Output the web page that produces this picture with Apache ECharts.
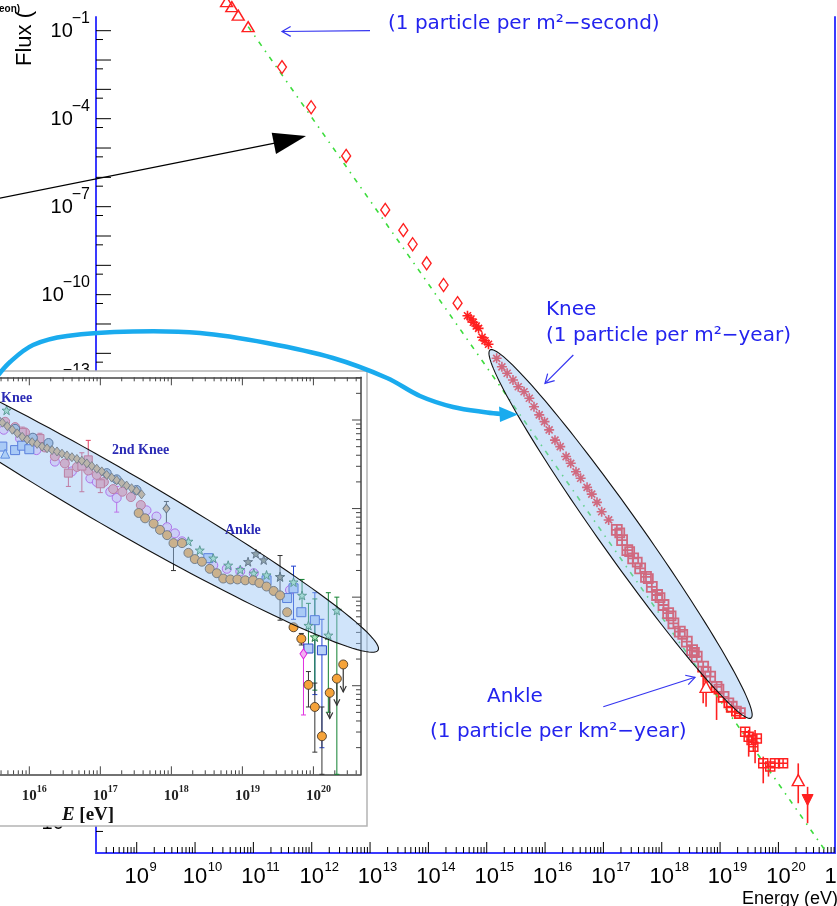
<!DOCTYPE html>
<html>
<head>
<meta charset="utf-8">
<script src="https://cdn.jsdelivr.net/npm/echarts@6.0.0/dist/echarts.min.js"></script>
<style>
html,body{margin:0;padding:0;background:#ffffff;overflow:hidden;}
#chart{width:837px;height:906px;}
</style>
</head>
<body>
<div id="chart"></div>
<script>
// ================= MAIN SPECTRUM (log10 E [eV], log10 Flux) =================
const mainTriLogE = [10.54, 10.63, 10.74, 10.91];
const mainTriLogF = [-0.01, -0.18, -0.47, -0.86];
const mainDiamondLogE = [11.49, 11.99, 12.59, 13.26, 13.57, 13.73, 13.97, 14.26, 14.50];
const mainDiamondLogF = [-2.24, -3.61, -5.27, -7.11, -7.80, -8.28, -8.93, -9.67, -10.29];
const mainStarLogE = [14.67, 14.73, 14.77, 14.82, 14.86, 14.92, 14.97, 15.03, 15.17, 15.26, 15.35, 15.45, 15.54, 15.64, 15.73, 15.81, 15.90, 15.99, 16.07, 16.17, 16.26, 16.36, 16.44, 16.53, 16.61, 16.72, 16.80, 16.89, 16.97, 17.09];
const mainStarLogF = [-10.72, -10.83, -10.94, -11.07, -11.15, -11.45, -11.57, -11.69, -12.17, -12.46, -12.68, -12.91, -13.14, -13.31, -13.53, -13.82, -14.10, -14.33, -14.61, -14.96, -15.18, -15.52, -15.75, -16.04, -16.26, -16.57, -16.80, -17.08, -17.40, -17.68];
const mainSquareLogE = [17.23, 17.32, 17.41, 17.51, 17.63, 17.73, 17.83, 17.92, 18.03, 18.11, 18.20, 18.31, 18.43, 18.52, 18.60, 18.71, 18.83, 18.94, 19.06, 19.20, 19.34];
const mainSquareLogF = [-18.02, -18.37, -18.71, -18.99, -19.33, -19.62, -19.96, -20.24, -20.58, -20.86, -21.21, -21.49, -21.83, -22.12, -22.34, -22.68, -23.02, -23.37, -23.71, -24.05, -24.27];
const mainCrossLogE = [17.28, 17.45, 17.58, 17.77, 17.97, 18.16, 18.36, 18.56, 18.76, 18.98, 19.15, 19.28];
const mainCrossLogF = [-18.12, -18.76, -19.12, -19.68, -20.33, -20.95, -21.58, -22.20, -22.85, -23.45, -23.92, -24.20];
const mainAnkleLogE = [19.43, 19.49, 19.54, 19.57, 19.63, 19.74, 19.86, 19.94, 20.08];
const mainAnkleLogF = [-24.90, -25.07, -25.18, -25.41, -25.13, -25.98, -26.09, -25.98, -25.98];
const mainOpenTriLogE = [18.76, 20.34];
const mainOpenTriLogF = [-23.37, -26.55];
const mainDownTriLogE = [20.50];
const mainDownTriLogF = [-27.23];
const mainErrLogE = [18.71, 18.76, 18.94, 19.49, 19.60, 19.74, 19.83, 20.34, 20.50];
const mainErrLo   = [-23.93, -24.05, -24.50, -25.75, -25.98, -26.66, -26.43, -27.34, -28.02];
const mainErrHi   = [-22.80, -23.03, -23.48, -24.84, -24.84, -25.75, -25.97, -25.98, -26.78];
const fitLogE = [10.91, 20.82];
const fitLogF = [-0.86, -29.0];

// tick labels (exponents of 10)
const mainXTickExp = [9, 10, 11, 12, 13, 14, 15, 16, 17, 18, 19, 20, 21];
const mainYTickExp = [-1, -4, -7, -10, -13, -16, -19, -22, -25, -28];
const insetXTickExp = [16, 17, 18, 19, 20];

// ================= INSET (log10 E [eV], log10 scaled flux) =================
const inTanLogE = [15.55, 15.62, 15.69, 15.76, 15.83, 15.90, 15.97, 16.04, 16.11, 16.18, 16.25, 16.32, 16.39, 16.46, 16.53, 16.60, 16.67, 16.74, 16.81, 16.88, 16.95, 17.02, 17.09, 17.16, 17.23, 17.30, 17.37, 17.44, 17.51, 17.58];
const inTanLogF = [4.02, 3.97, 3.93, 3.89, 3.85, 3.81, 3.78, 3.75, 3.73, 3.70, 3.68, 3.66, 3.645, 3.62, 3.60, 3.58, 3.56, 3.54, 3.51, 3.48, 3.45, 3.42, 3.38, 3.35, 3.32, 3.29, 3.26, 3.23, 3.20, 3.16];
const inOrangeLogE = [17.54, 17.63, 17.75, 17.84, 17.94, 18.03, 18.15, 18.24, 18.33, 18.43, 18.54, 18.64, 18.73, 18.83, 18.93, 19.04, 19.15, 19.24, 19.34, 19.44, 19.53, 19.63, 19.72, 19.83, 19.93, 20.02, 20.12];
const inOrangeLogF = [2.95, 2.89, 2.83, 2.76, 2.70, 2.61, 2.61, 2.50, 2.43, 2.40, 2.32, 2.27, 2.21, 2.20, 2.20, 2.19, 2.19, 2.16, 2.12, 2.07, 2.02, 1.83, 1.66, 1.53, 1.01, 0.76, 0.43];
const inLimitLogE = [20.23, 20.33, 20.42];
const inLimitLogF = [0.92, 1.08, 1.24];
const inLimitEnd  = [0.63, 0.78, 0.93];
const inPinkLogE = [15.66, 15.80, 15.94, 16.08, 16.22, 16.36, 16.50, 16.67, 16.83, 16.95, 17.05, 17.18, 17.31, 17.43, 17.57];
const inPinkLogF = [3.98, 3.92, 3.86, 3.78, 3.69, 3.59, 3.51, 3.47, 3.43, 3.38, 3.30, 3.22, 3.19, 3.13, 3.04];
const inPinkSqLogE = [15.90, 16.15, 16.55, 16.74, 16.83, 17.00];
const inPinkSqLogF = [3.86, 3.79, 3.40, 3.48, 3.55, 3.28];
const inPinkSqLo   = [3.80, 3.73, 3.25, 3.19, 3.44, 3.18];
const inPinkSqHi   = [3.92, 3.85, 3.55, 3.63, 3.77, 3.38];
const inMagLogE = [15.64, 15.87, 16.10, 16.36, 16.60, 16.86, 16.95, 17.14, 17.23, 17.65, 17.79, 17.94, 18.05, 18.15, 18.59, 18.78, 18.97, 19.16, 19.67];
const inMagLogF = [3.89, 3.79, 3.66, 3.53, 3.42, 3.34, 3.30, 3.19, 3.12, 2.98, 2.91, 2.79, 2.72, 2.63, 2.36, 2.32, 2.29, 2.27, 2.08];
const inMagDiaLogE = [19.86];
const inMagDiaLogF = [1.36];
const inMagErrLogE = [17.23, 19.86];
const inMagErrLo   = [2.96, 0.67];
const inMagErrHi   = [3.25, 1.51];
const inBlueSqLogE = [15.62, 15.80, 15.90, 16.00, 18.52, 19.34, 19.63, 19.72, 19.83, 20.02, 19.93, 20.12];
const inBlueSqLogF = [3.70, 3.66, 3.71, 3.67, 2.44, 2.19, 1.99, 2.10, 1.83, 1.74, 1.42, 1.40];
const inBlueErrLogE = [19.72, 20.02, 20.12];
const inBlueErrLo   = [1.75, 0.90, 0.30];
const inBlueErrHi   = [2.35, 2.05, 1.75];
const inBlueTriLogE = [15.66];
const inBlueTriLogF = [3.62];
const inGreenLogE = [15.68, 18.24, 18.40, 18.59, 18.80, 18.97, 19.16, 19.34, 19.53, 19.72, 19.84, 19.93, 20.02, 20.21, 20.33];
const inGreenLogF = [4.11, 2.63, 2.53, 2.44, 2.36, 2.31, 2.27, 2.25, 2.23, 2.17, 2.02, 1.68, 1.55, 1.57, 1.85];
const inGreenErrLogE = [19.84, 19.93, 20.02, 20.21, 20.33];
const inGreenErrLo   = [1.80, 1.40, 0.95, 0.70, 0.00];
const inGreenErrHi   = [2.20, 1.93, 1.98, 2.05, 2.00];
const inGreyCircLogE = [15.80, 16.05, 16.27, 17.09, 17.23, 17.51];
const inGreyCircLogF = [3.90, 3.80, 3.74, 3.40, 3.33, 3.21];
const inDarkStarLogE = [19.08, 19.19, 19.30, 19.53];
const inDarkStarLogF = [2.40, 2.49, 2.42, 2.23];
const inDarkDiaLogE = [17.93];
const inDarkDiaLogF = [3.00];
const inDarkErrLogE = [17.93, 18.03, 19.53, 19.83, 19.93, 20.02, 20.12];
const inDarkErrLo   = [2.82, 2.30, 1.74, 1.46, 0.76, 0.25, 0.00];
const inDarkErrHi   = [3.08, 2.65, 2.47, 1.59, 1.16, 1.03, 0.76];

// ================= helpers =================
const pw = v => Math.pow(10, v);
const zip = (a, b) => a.map((v, i) => [pw(v), pw(b[i])]);
const zip3 = (a, b, c) => a.map((v, i) => [pw(v), pw(b[i]), pw(c[i])]);
const range = (a, b) => { const r = []; for (let i = a; i <= b; i++) r.push(i); return r; };

const X0 = [8.302, 20.97], Y0 = [-29.036, -0.533];
const X1 = [15.5, 20.67], Y1 = [0, 4.482];
const AXB = '#3a3aff';
const RED = '#ff2020';
const SANS = '"Liberation Sans", Arial, sans-serif';
const SERIF = '"Liberation Serif", "DejaVu Serif", serif';

const mctx = document.createElement('canvas').getContext('2d');
function tw(t, font) { mctx.font = font; return mctx.measureText(t).width; }

function expOf(v) { const e = Math.log10(v); const r = Math.round(e); return Math.abs(e - r) < 1e-6 ? r : null; }
function fmtInX(v) { const r = expOf(v); return (r !== null && insetXTickExp.includes(r)) ? '{b|10}{s|' + r + '}' : ''; }

function textEl(t, x, y, font, fill, align) {
  return { type: 'text', x: x, y: y, style: { text: t, font: font, fill: fill, align: align, textAlign: align, verticalAlign: 'middle', textVerticalAlign: 'middle' } };
}
function tickSeries(xi, yi, data, dx, dy, len, color, z) {
  return { type: 'custom', xAxisIndex: xi, yAxisIndex: yi, z: z, clip: false, silent: true, data: data,
    renderItem: function (params, api) {
      const p = api.coord([api.value(0), api.value(1)]);
      return { type: 'line', shape: { x1: p[0], y1: p[1], x2: p[0] + dx * len, y2: p[1] + dy * len },
        style: { stroke: color, lineWidth: 1 } };
    } };
}
const XB_FONT = '22px ' + SANS, XS_FONT = '13px ' + SANS;
const YB_FONT = '20px ' + SANS, YS_FONT = '16px ' + SANS;
function xLabelSeries(data, z) {
  return { type: 'custom', xAxisIndex: 0, yAxisIndex: 0, z: z, clip: false, silent: true, data: data,
    renderItem: function (params, api) {
      const p = api.coord([api.value(0), api.value(1)]);
      const e = Math.round(Math.log10(api.value(0)));
      const w = tw('10', XB_FONT);
      return { type: 'group', children: [
        textEl('10', p[0], p[1] + 24, XB_FONT, '#000', 'center'),
        textEl(String(e), p[0] + w / 2 + 0.5, p[1] + 14, XS_FONT, '#000', 'left')
      ] };
    } };
}
function yLabelSeries(data, z) {
  return { type: 'custom', xAxisIndex: 0, yAxisIndex: 0, z: z, clip: false, silent: true, data: data,
    renderItem: function (params, api) {
      const p = api.coord([api.value(0), api.value(1)]);
      const e = Math.round(Math.log10(api.value(1)));
      const s = '\u2212' + Math.abs(e);
      const ws = tw(s, YS_FONT);
      const xr = p[0] - 6;
      return { type: 'group', children: [
        textEl(s, xr, p[1] - 12, YS_FONT, '#000', 'right'),
        textEl('10', xr - ws + 1, p[1] + 1, YB_FONT, '#000', 'right')
      ] };
    } };
}
function errSeries(xi, yi, data, color, cap, z, lw) {
  return { type: 'custom', xAxisIndex: xi, yAxisIndex: yi, z: z, clip: false, silent: true, data: data,
    encode: { x: 0, y: [1, 2] },
    renderItem: function (params, api) {
      const lo = api.coord([api.value(0), api.value(1)]);
      const hi = api.coord([api.value(0), api.value(2)]);
      const st = { stroke: color, lineWidth: lw || 1.2 };
      const ch = [{ type: 'line', shape: { x1: lo[0], y1: lo[1], x2: hi[0], y2: hi[1] }, style: st }];
      if (cap) {
        ch.push({ type: 'line', shape: { x1: lo[0] - cap, y1: lo[1], x2: lo[0] + cap, y2: lo[1] }, style: st });
        ch.push({ type: 'line', shape: { x1: hi[0] - cap, y1: hi[1], x2: hi[0] + cap, y2: hi[1] }, style: st });
      }
      return { type: 'group', children: ch };
    } };
}
function limitSeries(xi, yi, data, color, z) {
  return { type: 'custom', xAxisIndex: xi, yAxisIndex: yi, z: z, clip: false, silent: true, data: data,
    encode: { x: 0, y: [1, 2] },
    renderItem: function (params, api) {
      const p = api.coord([api.value(0), api.value(1)]);
      const q = api.coord([api.value(0), api.value(2)]);
      const st = { stroke: color, lineWidth: 1.2, fill: null };
      return { type: 'group', children: [
        { type: 'line', shape: { x1: p[0], y1: p[1], x2: q[0], y2: q[1] }, style: st },
        { type: 'polyline', shape: { points: [[q[0] - 3, q[1] - 6], [q[0], q[1]], [q[0] + 3, q[1] - 6]] }, style: st }
      ] };
    } };
}
function scatter(xi, yi, data, symbol, size, fill, stroke, bw, z, extra) {
  return Object.assign({ type: 'scatter', xAxisIndex: xi, yAxisIndex: yi, data: data, symbol: symbol,
    symbolSize: size, z: z, clip: false, silent: true,
    itemStyle: { color: fill, borderColor: stroke, borderWidth: bw, opacity: 1 } }, extra || {});
}

const ASTER = 'path://M5,0L5,10M0,5L10,5M1.5,1.5L8.5,8.5M1.5,8.5L8.5,1.5';
const SQCROSS = 'path://M0,0L10,0L10,10L0,10ZM5,0L5,10M0,5L10,5';
const STAR = 'path://M5,0L6.2,3.6L10,3.6L7,5.9L8.1,9.5L5,7.3L1.9,9.5L3,5.9L0,3.6L3.8,3.6Z';

// ----- tick / label positions (axis decoration) -----
const mainXMajor = range(9, 20).map(d => [pw(d), pw(Y0[0])]);
const mainXMinor = [];
for (let d = 8; d <= 20; d++) for (let m = 2; m <= 9; m++) { const l = d + Math.log10(m); if (l > X0[0] && l < X0[1]) mainXMinor.push([pw(l), pw(Y0[0])]); }
const mainYMajor = range(1, 28).map(k => [pw(X0[0]), pw(-k)]);
const mainYMinor = range(2, 29).map(k => -k + Math.log10(5)).filter(l => l > Y0[0]).map(l => [pw(X0[0]), pw(l)]);
const mainXLabelPos = mainXTickExp.map(e => [pw(e), pw(Y0[0])]);
const mainYLabelPos = mainYTickExp.map(e => [pw(X0[0]), pw(e)]);
const inXMajorB = range(16, 20).map(d => [pw(d), pw(Y1[0])]);
const inXMajorT = range(16, 20).map(d => [pw(d), pw(Y1[1])]);
const inXMinorB = [], inXMinorT = [];
for (let d = 15; d <= 20; d++) for (let m = 2; m <= 9; m++) { const l = d + Math.log10(m); if (l > X1[0] && l < X1[1]) { inXMinorB.push([pw(l), pw(Y1[0])]); inXMinorT.push([pw(l), pw(Y1[1])]); } }
const inYMajor = range(1, 4).map(d => [pw(X1[1]), pw(d)]);
const inYMinor = [];
for (let d = 0; d <= 4; d++) for (let m = 2; m <= 9; m++) { const l = d + Math.log10(m); if (l > Y1[0] && l < Y1[1]) inYMinor.push([pw(X1[1]), pw(l)]); }

function logAxis(gi, ext, pos, extra) {
  return Object.assign({ gridIndex: gi, type: 'log', logBase: 10, min: pw(ext[0]), max: pw(ext[1]), position: pos,
    axisLine: { show: true, onZero: false, lineStyle: { color: '#444', width: 1.5 } },
    axisTick: { show: false }, minorTick: { show: false }, splitLine: { show: false }, minorSplitLine: { show: false },
    axisLabel: { show: false } }, extra || {});
}

const option = {
  animation: false,
  backgroundColor: '#ffffff',
  tooltip: { show: false },
  grid: [
    { left: 96, top: 17, width: 739, height: 836, containLabel: false, outerBoundsMode: 'none' },
    { left: -6.2, top: 377.3, width: 367.2, height: 397, containLabel: false, outerBoundsMode: 'none' }
  ],
  xAxis: [
    logAxis(0, X0, 'bottom', { z: 0, axisLine: { show: true, onZero: false, lineStyle: { color: AXB, width: 2 } } }),
    logAxis(1, X1, 'bottom', { z: 6, splitNumber: 5,
      axisLabel: { show: true, margin: 10, padding: [0, 0, 0, 10], formatter: fmtInX,
        rich: { b: { fontSize: 15, fontWeight: 'bold', fontFamily: SERIF, color: '#222', lineHeight: 24 },
                s: { fontSize: 10, fontWeight: 'bold', fontFamily: SERIF, color: '#222', lineHeight: 10, verticalAlign: 'top' } } } }),
    logAxis(1, X1, 'top', { z: 6 })
  ],
  yAxis: [
    logAxis(0, Y0, 'left', { z: 0, axisLine: { show: true, onZero: false, lineStyle: { color: AXB, width: 2 } } }),
    logAxis(0, Y0, 'right', { z: 0, axisLine: { show: true, onZero: false, lineStyle: { color: AXB, width: 2 } } }),
    logAxis(1, Y1, 'left', { z: 6 }),
    logAxis(1, Y1, 'right', { z: 6 })
  ],
  series: [
    // ---- main ticks & labels ----
    tickSeries(0, 0, mainXMajor, 0, -1, 11, '#000', 1),
    tickSeries(0, 0, mainXMinor, 0, -1, 6, '#000', 1),
    tickSeries(0, 0, mainYMajor, 1, 0, 15, '#000', 1),
    tickSeries(0, 0, mainYMinor, 1, 0, 7, '#000', 1),
    xLabelSeries(mainXLabelPos, 1),
    yLabelSeries(mainYLabelPos, 1),
    // ---- main data ----
    { type: 'line', xAxisIndex: 0, yAxisIndex: 0, data: zip(fitLogE, fitLogF), showSymbol: false, symbol: 'none', z: 2, silent: true, clip: false,
      lineStyle: { color: '#3ddc3d', width: 1.6, type: [5, 6, 1.5, 6] } },
    errSeries(0, 0, zip3(mainErrLogE, mainErrLo, mainErrHi), RED, 0, 2, 1.6),
    scatter(0, 0, zip(mainTriLogE, mainTriLogF), 'triangle', [12, 10], 'rgba(255,255,255,0)', RED, 1.4, 2),
    scatter(0, 0, zip(mainDiamondLogE, mainDiamondLogF), 'diamond', [9, 13], 'rgba(255,255,255,0)', RED, 1.4, 2),
    scatter(0, 0, zip(mainStarLogE, mainStarLogF), ASTER, 10, 'rgba(255,255,255,0)', RED, 1.6, 2),
    scatter(0, 0, zip(mainSquareLogE, mainSquareLogF), SQCROSS, 10, 'rgba(255,255,255,0)', RED, 1.8, 2),
    scatter(0, 0, zip(mainCrossLogE, mainCrossLogF), 'rect', 9, 'rgba(255,255,255,0)', RED, 1.8, 2),
    scatter(0, 0, zip(mainAnkleLogE, mainAnkleLogF), SQCROSS, 9, 'rgba(255,255,255,0)', RED, 1.5, 2),
    scatter(0, 0, zip(mainOpenTriLogE, mainOpenTriLogF), 'triangle', [12, 11], '#ffffff', RED, 1.4, 2),
    scatter(0, 0, zip(mainDownTriLogE, mainDownTriLogF), 'triangle', [11, 11], RED, RED, 1, 2, { symbolRotate: 180 }),
    // ---- inset ticks ----
    tickSeries(1, 2, inXMajorB, 0, -1, 8, '#444', 6),
    tickSeries(1, 2, inXMinorB, 0, -1, 4, '#444', 6),
    tickSeries(1, 2, inXMajorT, 0, 1, 8, '#444', 6),
    tickSeries(1, 2, inXMinorT, 0, 1, 4, '#444', 6),
    tickSeries(1, 2, inYMajor, -1, 0, 9, '#444', 6),
    tickSeries(1, 2, inYMinor, -1, 0, 5, '#444', 6),
    // ---- inset data ----
    errSeries(1, 2, zip3(inPinkSqLogE, inPinkSqLo, inPinkSqHi), '#e04060', 2.5, 7, 1),
    errSeries(1, 2, zip3(inMagErrLogE, inMagErrLo, inMagErrHi), '#e030e0', 2.5, 7, 1),
    errSeries(1, 2, zip3(inBlueErrLogE, inBlueErrLo, inBlueErrHi), '#2040d0', 2.5, 7, 1),
    errSeries(1, 2, zip3(inGreenErrLogE, inGreenErrLo, inGreenErrHi), '#108030', 2.5, 7, 1),
    errSeries(1, 2, zip3(inDarkErrLogE, inDarkErrLo, inDarkErrHi), '#333333', 2.5, 7, 1),
    limitSeries(1, 2, zip3(inLimitLogE, inLimitLogF, inLimitEnd), '#333333', 7),
    scatter(1, 2, zip(inMagLogE, inMagLogF), 'circle', 9, 'rgba(246,214,250,0.95)', '#c030e0', 1, 7),
    scatter(1, 2, zip(inPinkLogE, inPinkLogF), 'circle', 9, '#f4a0b0', '#d84860', 1, 7),
    scatter(1, 2, zip(inPinkSqLogE, inPinkSqLogF), 'rect', 8, '#f4a0b0', '#d84860', 1, 7),
    scatter(1, 2, zip(inGreyCircLogE, inGreyCircLogF), 'circle', 9, '#a8bcd8', '#2a3a5a', 1, 7),
    scatter(1, 2, zip(inBlueSqLogE, inBlueSqLogF), 'rect', 9, '#b8d0f8', '#2848c8', 1, 7),
    scatter(1, 2, zip(inBlueTriLogE, inBlueTriLogF), 'triangle', 9, '#c0d8f8', '#3060d0', 1, 7),
    scatter(1, 2, zip(inTanLogE, inTanLogF), 'diamond', [7, 9], '#d8aa70', '#4a3a2a', 0.8, 7),
    scatter(1, 2, zip(inGreenLogE, inGreenLogF), STAR, 9, '#a8e8b8', '#207040', 0.9, 7),
    scatter(1, 2, zip(inDarkStarLogE, inDarkStarLogF), STAR, 9, '#8a8a70', '#333333', 0.9, 7),
    scatter(1, 2, zip(inDarkDiaLogE, inDarkDiaLogF), 'diamond', [7, 9], '#d8aa70', '#333333', 0.9, 7),
    scatter(1, 2, zip(inOrangeLogE, inOrangeLogF), 'circle', 9, '#f5a33a', '#4a3a2a', 0.9, 7),
    scatter(1, 2, zip(inMagDiaLogE, inMagDiaLogF), 'diamond', [7, 10], '#f0b0f0', '#e020e0', 1, 7),
    scatter(1, 2, zip(inLimitLogE, inLimitLogF), 'circle', 9, '#f5a33a', '#4a3a2a', 0.9, 7)
  ]
};

const chart = echarts.init(document.getElementById('chart'), null, { renderer: 'canvas', width: 837, height: 906 });
chart.setOption(option);

// ================= annotations =================
function ellipsePoints(p1, p2, b) {
  const cx = (p1[0] + p2[0]) / 2, cy = (p1[1] + p2[1]) / 2;
  const a = Math.hypot(p2[0] - p1[0], p2[1] - p1[1]) / 2;
  const th = Math.atan2(p2[1] - p1[1], p2[0] - p1[0]);
  const pts = [];
  for (let i = 0; i < 144; i++) {
    const t = i / 144 * 2 * Math.PI;
    const ex = a * Math.cos(t), ey = b * Math.sin(t);
    pts.push([cx + ex * Math.cos(th) - ey * Math.sin(th), cy + ex * Math.sin(th) + ey * Math.cos(th)]);
  }
  return pts;
}
function arrowHead(from, tip, len, ang) {
  const d = Math.atan2(from[1] - tip[1], from[0] - tip[0]);
  return [[tip[0] + len * Math.cos(d + ang), tip[1] + len * Math.sin(d + ang)], tip,
          [tip[0] + len * Math.cos(d - ang), tip[1] + len * Math.sin(d - ang)]];
}
function txt(t, x, y, font, fill, align, z, extra) {
  return Object.assign({ type: 'text', x: x, y: y, z: z, silent: true,
    style: { text: t, font: font, fill: fill, align: align, textAlign: align, verticalAlign: 'middle', textVerticalAlign: 'middle' } }, extra || {});
}

const mainEllA = chart.convertToPixel({ xAxisIndex: 0, yAxisIndex: 0 }, [pw(15.057), pw(-11.886)]);
const mainEllB = chart.convertToPixel({ xAxisIndex: 0, yAxisIndex: 0 }, [pw(19.531), pw(-24.433)]);
const inC = chart.convertToPixel({ xAxisIndex: 1, yAxisIndex: 2 }, [pw(17.207), pw(3.119)]);
const inT = chart.convertToPixel({ xAxisIndex: 1, yAxisIndex: 2 }, [pw(20.911), pw(1.401)]);
const inS = [2 * inC[0] - inT[0], 2 * inC[1] - inT[1]];

const ANN = '#2323ee';
const ANNF = '20px "DejaVu Sans", sans-serif';
const a1from = [370, 30.7], a1tip = [282, 31.5];
const a2from = [573.3, 355], a2tip = [545, 383.3];
const a3from = [603.3, 706.7], a3tip = [695, 677.3];
const ALS = { stroke: '#3535f0', lineWidth: 1.2, fill: null };

const graphics = [
  txt('eon)', -1, 9, 'bold 10px ' + SANS, '#000', 'left', 1),
  txt('Flux (', 25, 66, '22px ' + SANS, '#000', 'left', 1, { rotation: Math.PI / 2 }),
  txt('Energy (eV)', 838, 899, '18px ' + SANS, '#000', 'right', 1),
  // main ellipse overlay
  { type: 'polygon', z: 4, silent: true, shape: { points: ellipsePoints(mainEllA, mainEllB, 21) },
    style: { fill: 'rgba(150,195,245,0.45)', stroke: '#111', lineWidth: 1.1 } },
  // blue annotations
  txt('(1 particle per m\u00b2\u2212second)', 388, 24, ANNF, ANN, 'left', 4),
  txt('Knee', 546, 310, ANNF, ANN, 'left', 4),
  txt('(1 particle per m\u00b2\u2212year)', 546, 336, ANNF, ANN, 'left', 4),
  txt('Ankle', 487, 697, ANNF, ANN, 'left', 4),
  txt('(1 particle per km\u00b2\u2212year)', 430, 732, ANNF, ANN, 'left', 4),
  { type: 'polyline', z: 4, silent: true, shape: { points: [a1from, a1tip] }, style: ALS },
  { type: 'polyline', z: 4, silent: true, shape: { points: arrowHead(a1from, a1tip, 10, 0.52) }, style: ALS },
  { type: 'polyline', z: 4, silent: true, shape: { points: [a2from, a2tip] }, style: ALS },
  { type: 'polyline', z: 4, silent: true, shape: { points: arrowHead(a2from, a2tip, 10, 0.52) }, style: ALS },
  { type: 'polyline', z: 4, silent: true, shape: { points: [a3from, a3tip] }, style: ALS },
  { type: 'polyline', z: 4, silent: true, shape: { points: arrowHead(a3from, a3tip, 10, 0.52) }, style: ALS },
  // black arrow
  { type: 'polyline', z: 4, silent: true, shape: { points: [[-2, 198.5], [276, 142.8]] }, style: { stroke: '#000', lineWidth: 1.2, fill: null } },
  { type: 'polygon', z: 4, silent: true, shape: { points: [[271.7, 132.7], [306, 136], [276, 154]] }, style: { fill: '#000' } },
  // inset box
  { type: 'rect', z: 5, silent: true, shape: { x: -2, y: 371, width: 369, height: 455 }, style: { fill: '#ffffff', stroke: '#b4b4b4', lineWidth: 1.5 } },
  // inset ellipse overlay
  { type: 'polygon', z: 8, silent: true, shape: { points: ellipsePoints(inS, inT, 29) },
    style: { fill: 'rgba(150,195,245,0.45)', stroke: '#111', lineWidth: 1.1 } },
  // inset labels
  txt('Knee', 1, 398.5, 'bold 14px ' + SERIF, '#2b2bb5', 'left', 9),
  txt('2nd Knee', 112, 450, 'bold 14px ' + SERIF, '#2b2bb5', 'left', 9),
  txt('Ankle', 225, 530, 'bold 14px ' + SERIF, '#2b2bb5', 'left', 9),
  { type: 'text', x: 88, y: 815, z: 9, silent: true,
    style: { text: '{i|E} [eV]', font: 'bold 19px ' + SERIF, fill: '#111', align: 'center', textAlign: 'center', verticalAlign: 'middle', textVerticalAlign: 'middle',
      rich: { i: { fontStyle: 'italic', fontWeight: 'bold', fontSize: 19, fontFamily: SERIF, fill: '#111' } } } },
  // cyan curved arrow
  { type: 'polyline', z: 10, silent: true,
    shape: { smooth: 0.35, points: [[-4, 378], [10, 362], [33, 345], [67, 336], [133, 331.5], [200, 333], [267, 343], [333, 358], [387, 378], [420, 396], [453, 407], [487, 412.5], [502, 414]] },
    style: { stroke: '#1aabee', lineWidth: 4.5, fill: null, lineCap: 'round' } },
  { type: 'polygon', z: 10, silent: true, shape: { points: [[499, 406.5], [518, 414.5], [500, 422]] }, style: { fill: '#1aabee' } }
];

chart.setOption({ graphic: graphics });
</script>
</body>
</html>
